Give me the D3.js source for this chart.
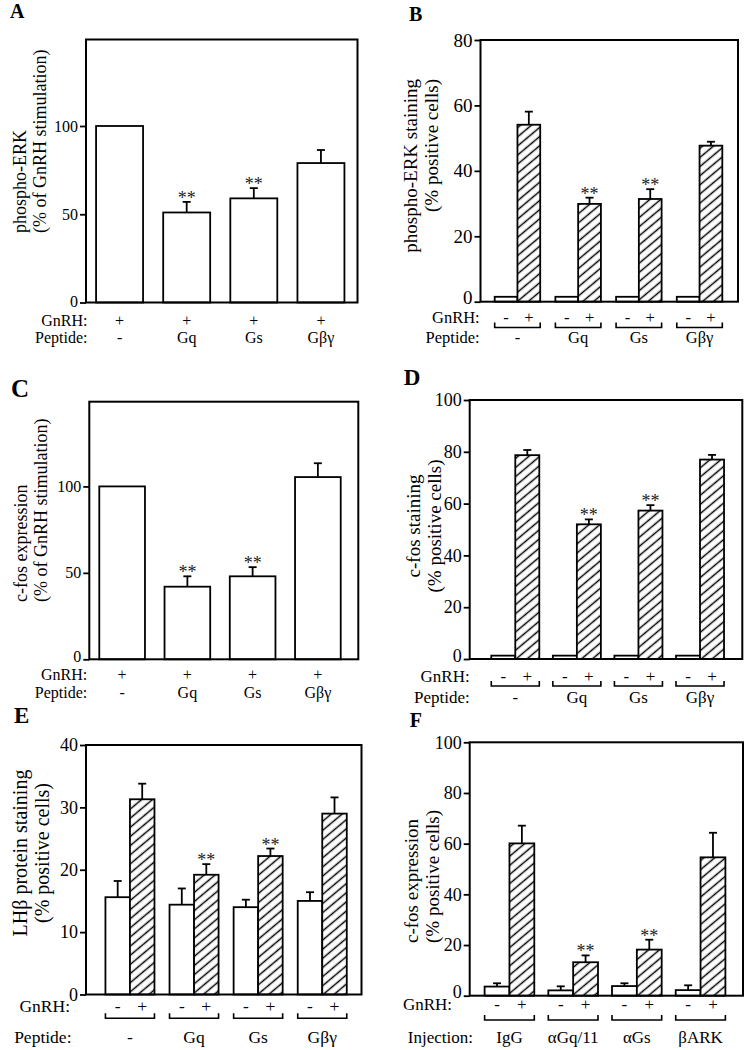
<!DOCTYPE html>
<html><head><meta charset="utf-8">
<script src="https://cdn.jsdelivr.net/npm/d3@7"></script>
<style>
body{margin:0;background:#fff}
svg{display:block}
text{font-family:"Liberation Serif","Times New Roman",serif;fill:#000}
</style>
</head><body>
<svg id="chart" width="747" height="1050"></svg>
<script>
// ---------------- DATA ----------------
// Panel A: phospho-ERK (% of GnRH stimulation)
const catsA = ["-", "Gq", "Gs", "Gβγ"];
const gnrhA = ["+", "+", "+", "+"];
const valsA = [100, 51, 59, 79];
const errA  = [0, 6, 5.8, 7.4];
const sigA  = [false, true, true, false];
const ticksA = [0, 50, 100];

// Panel B: phospho-ERK staining (% positive cells)
const catsB = ["-", "Gq", "Gs", "Gβγ"];
const ctrlB = [1.5, 1.5, 1.5, 1.5];
const ctrlErrB = [0, 0, 0, 0];
const stimB = [54.1, 29.9, 31.4, 47.7];
const stimErrB = [4.0, 1.9, 3.0, 1.2];
const sigB  = [false, true, true, false];
const ticksB = [0, 20, 40, 60, 80];

// Panel C: c-fos expression (% of GnRH stimulation)
const catsC = ["-", "Gq", "Gs", "Gβγ"];
const gnrhC = ["+", "+", "+", "+"];
const valsC = [100, 42, 48, 105.4];
const errC  = [0, 6, 5.3, 8];
const sigC  = [false, true, true, false];
const ticksC = [0, 50, 100];

// Panel D: c-fos staining (% positive cells)
const catsD = ["-", "Gq", "Gs", "Gβγ"];
const ctrlD = [1.3, 1.3, 1.3, 1.3];
const ctrlErrD = [0, 0, 0, 0];
const stimD = [78.7, 52, 57.3, 77];
const stimErrD = [2, 1.9, 2.1, 1.8];
const sigD  = [false, true, true, false];
const ticksD = [0, 20, 40, 60, 80, 100];

// Panel E: LHβ protein staining (% positive cells)
const catsE = ["-", "Gq", "Gs", "Gβγ"];
const ctrlE = [15.6, 14.4, 14.0, 15.0];
const ctrlErrE = [2.6, 2.6, 1.2, 1.4];
const stimE = [31.3, 19.2, 22.2, 29.0];
const stimErrE = [2.5, 1.7, 1.2, 2.6];
const sigE  = [false, true, true, false];
const ticksE = [0, 10, 20, 30, 40];

// Panel F: c-fos expression (% positive cells)
const catsF = ["IgG", "αGq/11", "αGs", "βARK"];
const ctrlF = [3.6, 2.1, 3.8, 2.2];
const ctrlErrF = [1.3, 1.6, 1.1, 1.9];
const stimF = [60.1, 13.2, 18.2, 54.6];
const stimErrF = [7, 2.7, 3.9, 9.7];
const sigF  = [false, true, true, false];
const ticksF = [0, 20, 40, 60, 80, 100];

const pairSigns = ["-", "+"];

// ---------------- DRAWING ----------------
const FONT = '"Liberation Serif","Times New Roman",serif';
const svg = d3.select("#chart");
const defs = svg.append("defs");
const pat = defs.append("pattern").attr("id", "hatch")
  .attr("patternUnits", "userSpaceOnUse").attr("width", 8).attr("height", 7)
  .attr("patternTransform", "rotate(-40)");
pat.append("rect").attr("width", 8).attr("height", 7).attr("fill", "#fff");
pat.append("line").attr("x1", 0).attr("x2", 8).attr("y1", 3.5).attr("y2", 3.5)
  .attr("stroke", "#000").attr("stroke-width", 1.5);

function panel(cfg) {
  const g = svg.append("g");
  const y = d3.scaleLinear().domain([0, cfg.ymax]).range([cfg.y1, cfg.y0]);
  const x = d3.scaleBand().domain(cfg.cats).range(cfg.band)
    .paddingInner(cfg.pad).paddingOuter(cfg.pad / 2);
  const xi = d3.scaleBand().domain(d3.range(cfg.series.length)).range([0, x.bandwidth()]);

  cfg.series.forEach((s, si) => {
    const sg = g.append("g");
    cfg.cats.forEach((c, i) => {
      const bx = x(c) + xi(si), bw = xi.bandwidth(), cx = bx + bw / 2;
      const v = s.vals[i], e = s.errs[i];
      if (e > 0) {
        sg.append("line").attr("x1", cx).attr("x2", cx).attr("y1", y(v)).attr("y2", y(v + e))
          .attr("stroke", "#000").attr("stroke-width", 1.8);
        sg.append("line").attr("x1", cx - 4).attr("x2", cx + 4).attr("y1", y(v + e)).attr("y2", y(v + e))
          .attr("stroke", "#000").attr("stroke-width", 1.8);
      }
      sg.append("rect").attr("x", bx).attr("y", y(v)).attr("width", bw).attr("height", y(0) - y(v))
        .attr("fill", s.hatch ? "url(#hatch)" : "#fff").attr("stroke", "#000").attr("stroke-width", 1.8);
      if (s.sig && s.sig[i]) {
        sg.append("text").attr("x", cx).attr("y", y(v + e) + 2).attr("text-anchor", "middle")
          .attr("font-size", 18).style("fill", "#222").text("**");
      }
    });
  });

  // frame
  g.append("rect").attr("x", cfg.x0).attr("y", cfg.y0).attr("width", cfg.x1 - cfg.x0)
    .attr("height", cfg.y1 - cfg.y0).attr("fill", "none").attr("stroke", "#000").attr("stroke-width", 2);

  // y axis
  const ax = g.append("g").attr("transform", `translate(${cfg.x0},0)`)
    .call(d3.axisLeft(y).tickValues(cfg.ticks).tickSize(6).tickPadding(2).tickFormat(d3.format("d")));
  ax.attr("font-family", FONT).attr("font-size", cfg.tickFont);
  ax.select(".domain").remove();
  ax.selectAll("line").attr("stroke", "#000").attr("stroke-width", 1.8);
  ax.selectAll("text").attr("fill", "#000")
    .attr("y", d => d === 0 ? -(cfg.zeroShift || 0) : 0);

  // title
  cfg.title.forEach((t, k) => {
    g.append("text").attr("transform", `translate(${cfg.titleX[k]},${cfg.titleY}) rotate(-90)`)
      .attr("text-anchor", cfg.titleAnchor).attr("font-size", cfg.titleFont).text(t);
  });

  // panel letter
  g.append("text").attr("x", cfg.letterX).attr("y", cfg.letterY).attr("font-size", cfg.letterFont)
    .attr("font-weight", "bold").text(cfg.letter);

  // bottom rows
  g.append("text").attr("x", cfg.row1X).attr("y", cfg.row1Y).attr("text-anchor", "end")
    .attr("font-size", cfg.rowFont).text("GnRH:");
  g.append("text").attr("x", cfg.row2X).attr("y", cfg.row2Y).attr("text-anchor", "end")
    .attr("font-size", cfg.rowFont).text(cfg.row2Label);

  cfg.cats.forEach((c, i) => {
    const gx = x(c), gw = x.bandwidth();
    if (cfg.single) {
      g.append("text").attr("x", gx + gw / 2).attr("y", cfg.row1Y).attr("text-anchor", "middle")
        .attr("font-size", cfg.rowFont).text(cfg.signs[i]);
    } else {
      pairSigns.forEach((s, si) => {
        g.append("text").attr("x", gx + xi(si) + xi.bandwidth() / 2).attr("y", cfg.row1Y)
          .attr("text-anchor", "middle").attr("font-size", cfg.rowFont).text(s);
      });
      const by = cfg.bracketY;
      g.append("path").attr("d", `M${gx},${by - 5}V${by}H${gx + gw}V${by - 5}`)
        .attr("fill", "none").attr("stroke", "#000").attr("stroke-width", 1.6);
    }
    g.append("text").attr("x", gx + gw / 2).attr("y", cfg.row2Y).attr("text-anchor", "middle")
      .attr("font-size", cfg.rowFont).text(c);
  });
}

panel({
  cats: catsA, single: true, signs: gnrhA,
  series: [{vals: valsA, errs: errA, sig: sigA, hatch: false}],
  x0: 86, x1: 357.5, y0: 39.5, y1: 302.5, ymax: 149, ticks: ticksA, tickFont: 16, zeroShift: 1,
  band: [86, 354.5], pad: 0.3,
  title: ["phospho-ERK", "(% of GnRH stimulation)"], titleX: [25.5, 45.5], titleY: 233,
  titleAnchor: "start", titleFont: 18,
  letter: "A", letterX: 10, letterY: 18.3, letterFont: 20,
  row1X: 87.5, row1Y: 325.5, row2X: 87.5, row2Y: 343.3, row2Label: "Peptide:", rowFont: 16
});

panel({
  cats: catsB, single: false,
  series: [{vals: ctrlB, errs: ctrlErrB, hatch: false}, {vals: stimB, errs: stimErrB, sig: sigB, hatch: true}],
  x0: 480.5, x1: 738, y0: 40, y1: 301.7, ymax: 80, ticks: ticksB, tickFont: 19, zeroShift: 4,
  band: [487.1, 729.9], pad: 0.25,
  title: ["phospho-ERK staining", "(% positive cells)"], titleX: [416.5, 437.5], titleY: 79,
  titleAnchor: "end", titleFont: 19,
  letter: "B", letterX: 409, letterY: 20.7, letterFont: 20,
  row1X: 479.7, row1Y: 323, row2X: 479.7, row2Y: 343, row2Label: "Peptide:", rowFont: 16.5,
  bracketY: 327.5
});

panel({
  cats: catsC, single: true, signs: gnrhC,
  series: [{vals: valsC, errs: errC, sig: sigC, hatch: false}],
  x0: 89.3, x1: 358.3, y0: 401.7, y1: 659.3, ymax: 149, ticks: ticksC, tickFont: 16, zeroShift: 3,
  band: [89.5, 350.5], pad: 0.3,
  title: ["c-fos expression", "(% of GnRH stimulation)"], titleX: [26.5, 46.5], titleY: 602,
  titleAnchor: "start", titleFont: 18,
  letter: "C", letterX: 11, letterY: 396.7, letterFont: 25,
  row1X: 87.3, row1Y: 680, row2X: 87.3, row2Y: 697.8, row2Label: "Peptide:", rowFont: 16
});

panel({
  cats: catsD, single: false,
  series: [{vals: ctrlD, errs: ctrlErrD, hatch: false}, {vals: stimD, errs: stimErrD, sig: sigD, hatch: true}],
  x0: 469.7, x1: 742.3, y0: 400, y1: 659, ymax: 100, ticks: ticksD, tickFont: 18, zeroShift: 3,
  band: [484.5, 730.8], pad: 0.22,
  title: ["c-fos staining", "(% positive cells)"], titleX: [420, 441], titleY: 526,
  titleAnchor: "middle", titleFont: 19,
  letter: "D", letterX: 403.7, letterY: 385, letterFont: 23,
  row1X: 469.7, row1Y: 682, row2X: 469.7, row2Y: 703, row2Label: "Peptide:", rowFont: 17,
  bracketY: 686
});

panel({
  cats: catsE, single: false,
  series: [{vals: ctrlE, errs: ctrlErrE, hatch: false}, {vals: stimE, errs: stimErrE, sig: sigE, hatch: true}],
  x0: 86, x1: 361.5, y0: 745, y1: 994.5, ymax: 40, ticks: ticksE, tickFont: 18,
  band: [97.9, 354.3], pad: 0.235,
  title: ["LHβ protein staining", "(% positive cells)"], titleX: [26.5, 48.7], titleY: 853,
  titleAnchor: "middle", titleFont: 20,
  letter: "E", letterX: 14, letterY: 723.3, letterFont: 23,
  row1X: 70, row1Y: 1011.7, row2X: 71.5, row2Y: 1043.3, row2Label: "Peptide:", rowFont: 17.5,
  bracketY: 1018.3
});

panel({
  cats: catsF, single: false,
  series: [{vals: ctrlF, errs: ctrlErrF, hatch: false}, {vals: stimF, errs: stimErrF, sig: sigF, hatch: true}],
  x0: 469.7, x1: 743, y0: 742.3, y1: 995.7, ymax: 100, ticks: ticksF, tickFont: 18, zeroShift: 4,
  band: [477.6, 732.4], pad: 0.22,
  title: ["c-fos expression", "(% positive cells)"], titleX: [418, 439], titleY: 943,
  titleAnchor: "start", titleFont: 19,
  letter: "F", letterX: 409.7, letterY: 726.7, letterFont: 20,
  row1X: 452, row1Y: 1010, row2X: 473, row2Y: 1043.3, row2Label: "Injection:", rowFont: 17,
  bracketY: 1020
});
</script>
</body></html>
